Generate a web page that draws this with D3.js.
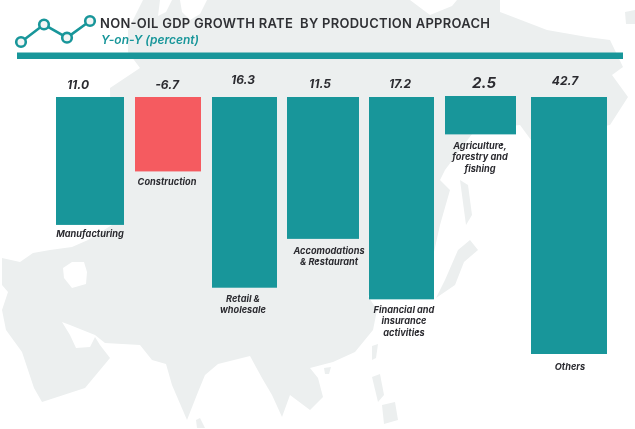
<!DOCTYPE html>
<html>
<head>
<meta charset="utf-8">
<script src="https://cdnjs.cloudflare.com/ajax/libs/d3/7.8.5/d3.min.js"></script>
<style>html,body{margin:0;padding:0;background:#fff}svg{display:block;filter:blur(0.45px)}</style>
</head>
<body>
<svg id="c" width="635" height="429"></svg>
<script>
// ---- data ----
const categories = [["Manufacturing"],["Construction"],["Retail &","wholesale"],["Accomodations","& Restaurant"],["Financial and","insurance","activities"],["Agriculture,","forestry and","fishing"],["Others"]];
const printedValues = ["11.0","-6.7","16.3","11.5","17.2","2.5","42.7"];
// the source graphic's bars are not proportional to the printed numbers:
// these are the drawn bar lengths as read, in units where Manufacturing = 11.0
const drawnLengths = [11.0,6.4,16.4,12.2,17.4,3.3,22.1];
const negative = [false,true,false,false,false,false,false];
const trendIcon = [1,3,1.5,3.4];
const titleText = "NON-OIL GDP GROWTH RATE  BY PRODUCTION APPROACH";
const subtitleText = "Y-on-Y (percent)";

// ---- layout ----
const TEAL="#18969a",RED="#f55b60",LAND="#ecefef",INK="#2b2b30";
const barEdges=[[56,124],[135,201],[212,277],[287,359],[369,434],[445,516],[531,607]];
const barTopShift=[0,0,0,0,0,-1,0];
const valueAnchor=[[78,89],[167,89],[243,84],[320,88],[400,88],[484,88],[565,85]];
const valueSize=[12,12,12,12,12,15,12];
const labelAnchor=[[90,237],[167,185],[243,302],[329,254],[404,313],[480,149],[570,370]];

const svg=d3.select("#c");

// ---- decorative map backdrop ----
const land=[
"M143,0 L128,30 L128,52 L140,68 L110,88 L112,225 L88,240 L72,247 L50,250 L33,253 L20,262 L2,258 L2,285 L8,292 L2,310 L6,330 L22,352 L34,388 L42,402 L85,388 L110,358 L100,345 L95,337 L90,347 L76,348 L70,335 L62,322 L70,325 L95,335 L105,343 L140,345 L152,360 L166,364 L172,385 L187,420 L198,392 L205,375 L218,364 L250,356 L262,378 L272,395 L282,417 L290,395 L310,410 L323,397 L318,378 L310,368 L333,362 L355,352 L373,330 L377,310 L368,296 L380,285 L400,290 L430,270 L440,225 L450,190 L440,180 L445,170 L460,150 L475,130 L520,125 L531,140 L610,125 L628,97 L612,75 L623,67 L610,40 L587,37 L547,30 L500,12 L500,0 L457,0 L452,6 L430,15 L410,0 Z",
"M436,298 L455,285 L464,262 L478,250 L470,240 L458,250 L445,280 Z",
"M460,180 L468,185 L472,215 L466,225 Z",
"M372,346 L378,344 L376,358 L372,360 Z",
"M372,377 L380,374 L384,395 L378,402 Z",
"M382,405 L395,402 L398,420 L384,424 Z",
"M324,368 L331,367 L329,374 L325,374 Z",
"M196,420 L200,418 L205,428 L197,428 Z",
"M625,12 L635,10 L635,24 L626,24 Z"
];
const waters=[
"M63,268 L72,262 L84,262 L87,272 L86,284 L72,288 L64,278 Z",
"M160,0 L172,0 L166,12 L158,16 Z",
"M180,0 L207,0 L200,14 L190,20 L182,12 Z"
];
svg.append("g").selectAll("path").data(land).join("path").attr("d",d=>d).attr("fill",LAND);
svg.append("g").selectAll("path").data(waters).join("path").attr("d",d=>d).attr("fill","#fff");

// ---- header ----
const iconX=d3.scaleLinear().domain([0,3]).range([21,90]);
const iconY=d3.scaleLinear().domain([1,3.4]).range([42,21]);
const iconG=svg.append("g");
iconG.append("path")
  .attr("d",d3.line().x((d,i)=>iconX(i)).y(d=>iconY(d))(trendIcon))
  .attr("fill","none").attr("stroke",TEAL).attr("stroke-width",2.6);
iconG.selectAll("circle").data(trendIcon).join("circle")
  .attr("cx",(d,i)=>iconX(i)).attr("cy",d=>iconY(d)).attr("r",4.8)
  .attr("fill","#f4f5f5").attr("stroke",TEAL).attr("stroke-width",2.6);

svg.append("text").attr("x",100).attr("y",28)
  .attr("font-family","Inter").attr("font-weight",600).attr("font-size",13)
  .attr("fill","#2f3034").style("white-space","pre")
  .attr("textLength",390).attr("lengthAdjust","spacing").text(titleText);
svg.append("text").attr("x",101).attr("y",44)
  .attr("font-family","Inter").attr("font-style","italic").attr("font-weight",600).attr("font-size",12)
  .attr("fill",TEAL).text(subtitleText);
svg.append("rect").attr("x",17).attr("y",52.5).attr("width",606).attr("height",6.5).attr("fill",TEAL);

// ---- bars ----
const yLen=d3.scaleLinear().domain([0,22.1]).range([0,257]);
const g=svg.append("g");
g.selectAll("rect").data(drawnLengths).join("rect")
  .attr("x",(d,i)=>barEdges[i][0])
  .attr("width",(d,i)=>barEdges[i][1]-barEdges[i][0])
  .attr("y",(d,i)=>97+barTopShift[i])
  .attr("height",d=>yLen(d))
  .attr("fill",(d,i)=>negative[i]?RED:TEAL);

// ---- value labels ----
svg.append("g").selectAll("text").data(printedValues).join("text")
  .attr("x",(d,i)=>valueAnchor[i][0]).attr("y",(d,i)=>valueAnchor[i][1])
  .attr("text-anchor","middle")
  .attr("font-family","Inter").attr("font-style","italic").attr("font-weight",700)
  .attr("font-size",(d,i)=>valueSize[i]).attr("fill",INK).text(d=>d);

// ---- category labels ----
const cat=svg.append("g").selectAll("text").data(categories).join("text")
  .attr("text-anchor","middle")
  .attr("font-family","Inter").attr("font-style","italic").attr("font-weight",700)
  .attr("font-size",9.2).attr("fill",INK);
cat.each(function(lines,i){
  d3.select(this).selectAll("tspan").data(lines).join("tspan")
    .attr("x",labelAnchor[i][0])
    .attr("y",(d,j)=>labelAnchor[i][1]+j*11.3)
    .text(d=>d);
});
</script>
</body>
</html>
